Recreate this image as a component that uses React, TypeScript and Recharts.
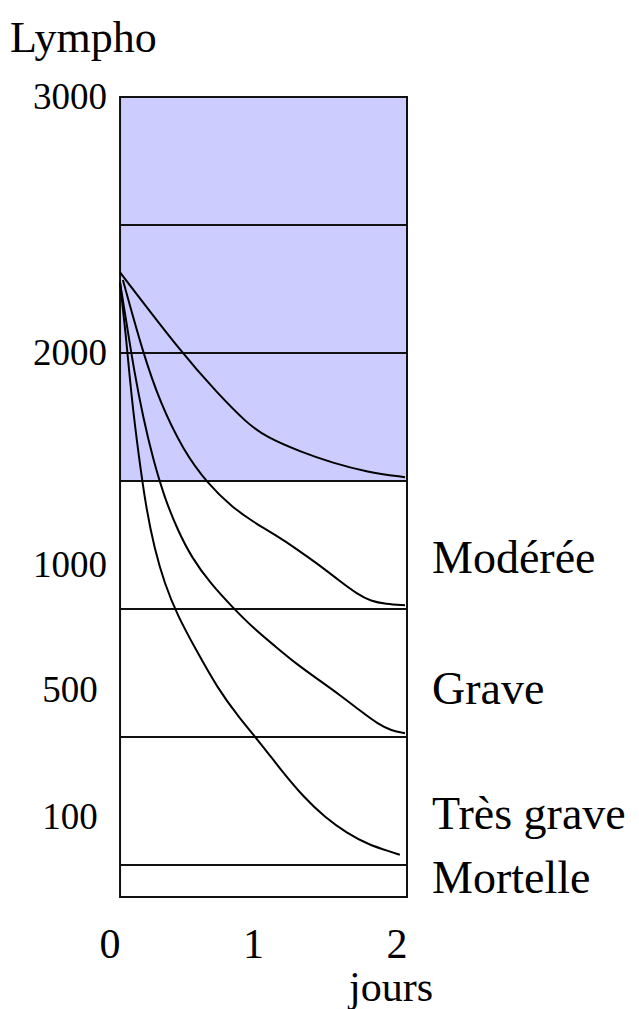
import React from 'react';
import {
  LineChart,
  Line,
  XAxis,
  YAxis,
  ReferenceArea,
  ReferenceLine,
} from 'recharts';

// échelle verticale par paliers (1 unité = une bande de sévérité)
const Y_TICK_POS = [6.25, 4.25, 2.59, 1.62, 0.625];
const Y_TICK_LABELS = ['3000', '2000', '1000', '500', '100'];

const SEVERITE = ['Modérée', 'Grave', 'Très grave', 'Mortelle'];
const SEVERITE_POS = [2.66, 1.63, 0.66, 0.16];

const SEUILS = [0.25, 1.25, 2.25, 3.25, 4.25, 5.25];
const ZONE_NORMALE = [3.25, 6.25];

const X_TICKS = [0, 1, 2];

// courbes (jours, niveau)
const JOURS_LEGERE = [0.07, 0.5, 0.746, 0.955, 1.094, 1.324, 1.554, 1.791, 2.056];
const NIV_LEGERE = [4.88, 4.25, 3.94, 3.7, 3.59, 3.48, 3.39, 3.32, 3.28];

const JOURS_MODEREE = [0.09, 0.23, 0.35, 0.51, 0.68, 0.857, 1.0, 1.15, 1.3, 1.45, 1.6, 1.72, 1.82, 1.92, 2.056];
const NIV_MODEREE = [4.82, 4.25, 3.86, 3.49, 3.23, 3.04, 2.93, 2.83, 2.72, 2.6, 2.47, 2.37, 2.31, 2.29, 2.28];

const JOURS_GRAVE = [0.07, 0.12, 0.17, 0.23, 0.3, 0.38, 0.47, 0.57, 0.7, 0.857, 1.0, 1.15, 1.3, 1.45, 1.6, 1.75, 1.87, 1.96, 2.056];
const NIV_GRAVE = [4.8, 4.45, 4.1, 3.75, 3.42, 3.12, 2.87, 2.65, 2.45, 2.26, 2.1, 1.96, 1.82, 1.7, 1.58, 1.45, 1.35, 1.3, 1.28];

const JOURS_TRES_GRAVE = [0.07, 0.11, 0.15, 0.2, 0.25, 0.31, 0.38, 0.47, 0.6, 0.75, 0.9, 1.05, 1.2, 1.35, 1.5, 1.65, 1.8, 1.95, 2.02];
const NIV_TRES_GRAVE = [4.8, 4.4, 3.9, 3.45, 3.05, 2.72, 2.45, 2.2, 1.93, 1.63, 1.4, 1.2, 0.98, 0.78, 0.62, 0.5, 0.41, 0.355, 0.33];

const X0 = 0.07;
const X1 = 2.07;
const FONT = '"Liberation Serif", "Times New Roman", serif';

const toPoints = (xs: number[], ys: number[]) => xs.map((x, i) => ({ x, y: ys[i] }));

const courbes = [
  toPoints(JOURS_LEGERE, NIV_LEGERE),
  toPoints(JOURS_MODEREE, NIV_MODEREE),
  toPoints(JOURS_GRAVE, NIV_GRAVE),
  toPoints(JOURS_TRES_GRAVE, NIV_TRES_GRAVE),
];

const LeftTick = ({ y, payload }: any) => {
  const idx = Y_TICK_POS.indexOf(payload.value);
  return (
    <text x={70} y={y} dy={12} textAnchor="middle" fontSize={37} fontFamily={FONT} fill="#000">
      {Y_TICK_LABELS[idx]}
    </text>
  );
};

const RightTick = ({ y, payload }: any) => {
  const idx = SEVERITE_POS.indexOf(payload.value);
  return (
    <text x={432} y={y} dy={16} textAnchor="start" fontSize={46} fontFamily={FONT} fill="#000">
      {SEVERITE[idx]}
    </text>
  );
};

const BottomTick = ({ x, payload }: any) => (
  <text x={x} y={958} textAnchor="middle" fontSize={42} fontFamily={FONT} fill="#000">
    {payload.value}
  </text>
);

export default function App() {
  return (
    <div style={{ position: 'absolute', left: 0, top: 0, background: '#fff' }}>
      <LineChart width={639} height={1009} margin={{ top: 97, right: 0, bottom: 0, left: 0 }}>
        <XAxis
          dataKey="x"
          type="number"
          domain={[0, X1]}
          ticks={X_TICKS}
          allowDataOverflow
          axisLine={false}
          tickLine={false}
          height={112}
          tick={<BottomTick />}
          label={{
            content: () => (
              <text x={391} y={1001} textAnchor="middle" fontSize={42} fontFamily={FONT} fill="#000">
                jours
              </text>
            ),
          }}
        />
        <YAxis
          yAxisId="l"
          type="number"
          domain={[0, 6.25]}
          ticks={Y_TICK_POS}
          allowDataOverflow
          axisLine={false}
          tickLine={false}
          width={110}
          tick={<LeftTick />}
          label={{
            content: () => (
              <text x={10} y={52} fontSize={44} fontFamily={FONT} fill="#000">
                Lympho
              </text>
            ),
          }}
        />
        <YAxis
          yAxisId="r"
          orientation="right"
          type="number"
          domain={[0, 6.25]}
          ticks={SEVERITE_POS}
          allowDataOverflow
          axisLine={false}
          tickLine={false}
          width={232}
          tick={<RightTick />}
        />
        <ReferenceArea
          yAxisId="l"
          x1={X0}
          x2={X1}
          y1={ZONE_NORMALE[0]}
          y2={ZONE_NORMALE[1]}
          fill="#ccccff"
          fillOpacity={1}
          stroke="none"
        />
        {SEUILS.map((s) => (
          <ReferenceLine
            key={s}
            yAxisId="l"
            segment={[{ x: X0, y: s }, { x: X1, y: s }]}
            stroke="#111"
            strokeWidth={2}
          />
        ))}
        <ReferenceArea
          yAxisId="l"
          x1={X0}
          x2={X1}
          y1={0}
          y2={6.25}
          fill="none"
          stroke="#111"
          strokeWidth={2}
        />
        {courbes.map((d, i) => (
          <Line
            key={i}
            yAxisId="l"
            data={d}
            dataKey="y"
            type="basis"
            stroke="#000"
            strokeWidth={2}
            dot={false}
            isAnimationActive={false}
          />
        ))}
      </LineChart>
    </div>
  );
}
